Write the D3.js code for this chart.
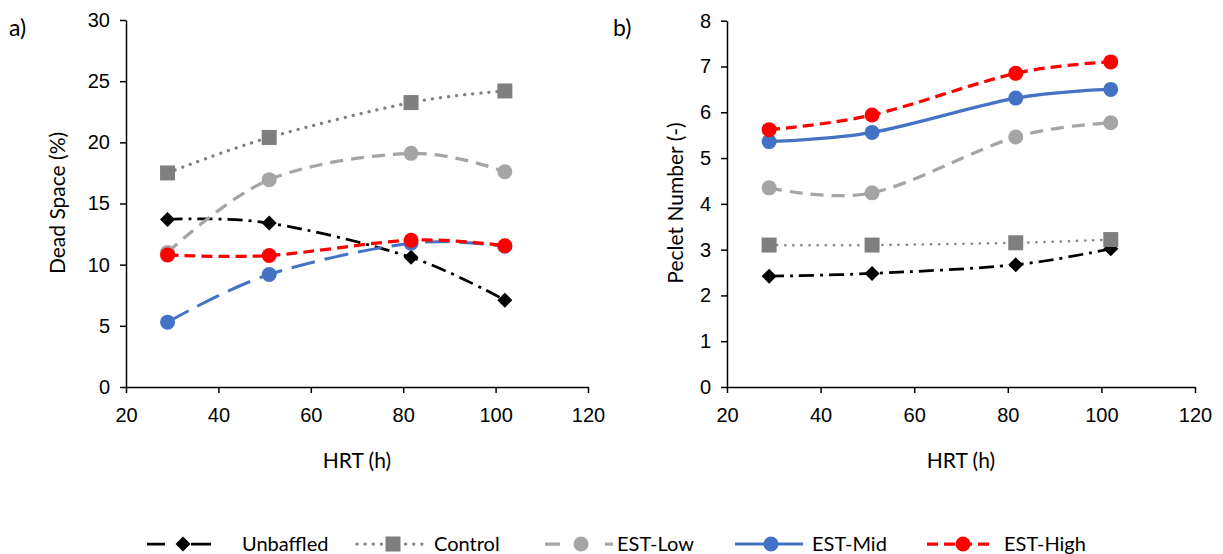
<!DOCTYPE html>
<html>
<head>
<meta charset="utf-8">
<script src="https://cdn.jsdelivr.net/npm/d3@7"></script>
<style>
  body { margin: 0; background: #fff; }
  svg { font-family: Lato, "Open Sans", sans-serif; }
  .tick line, .domain { stroke: #000; stroke-width: 1.5; }
</style>
</head>
<body>
<svg width="1223" height="554"></svg>
<script>
// HRT values (h), shared by both panels
const hrt = [29, 51, 81.7, 102];

const seriesNames = ["Unbaffled", "Control", "EST-Low", "EST-Mid", "EST-High"];

// panel a) dead space (%)
const deadUnbaffled = [13.7, 13.4, 10.6, 7.1];
const deadControl   = [17.5, 20.4, 23.25, 24.2];
const deadLow       = [11.0, 16.95, 19.1, 17.6];
const deadMid       = [5.3, 9.2, 11.75, 11.5];
const deadHigh      = [10.8, 10.75, 12.0, 11.55];

// panel b) peclet number (-)
const pecUnbaffled = [2.42, 2.48, 2.67, 3.02];
const pecControl   = [3.1, 3.1, 3.15, 3.22];
const pecLow       = [4.35, 4.24, 5.46, 5.77];
const pecMid       = [5.36, 5.56, 6.31, 6.5];
const pecHigh      = [5.62, 5.94, 6.85, 7.1];

const xTicks = [20, 40, 60, 80, 100, 120];
const deadTicks = [0, 5, 10, 15, 20, 25, 30];
const pecTicks = [0, 1, 2, 3, 4, 5, 6, 7, 8];

// styles per series, panel b has a solid EST-Mid line
const styles = {
  "Unbaffled": {color: "#000000", marker: "diamond", dash: "15 6 3 6", width: 2.75},
  "Control":   {color: "#7f7f7f", marker: "square",  dash: "0.1 8", width: 3.25, cap: "round"},
  "EST-Low":   {color: "#a5a5a5", marker: "circle",  dash: "13 8", width: 3.25},
  "EST-Mid":   {color: "#4472c4", marker: "circle",  dash: "24 10", width: 3},
  "EST-High":  {color: "#ff0000", marker: "circle",  dash: "11 6", width: 3.25}
};

const svg = d3.select("svg");

function drawMarker(g, type, color, x, y) {
  if (type === "circle") {
    g.append("circle").attr("cx", x).attr("cy", y).attr("r", 7.5).attr("fill", color);
  } else if (type === "square") {
    g.append("rect").attr("x", x - 7.5).attr("y", y - 7.5).attr("width", 15).attr("height", 15).attr("fill", color);
  } else {
    g.append("path").attr("d", `M${x},${y - 7.5}L${x + 7.5},${y}L${x},${y + 7.5}L${x - 7.5},${y}Z`).attr("fill", color);
  }
}

function panel(opts) {
  let x = d3.scaleLinear().domain([20, 120]).range(opts.xRange);
  let y = d3.scaleLinear().domain(opts.yDomain).range([387, opts.yTop]);
  let g = svg.append("g");

  g.append("g")
    .attr("transform", `translate(0,387)`)
    .call(d3.axisBottom(x).tickValues(xTicks).tickSize(6).tickPadding(15).tickSizeOuter(0))
    .selectAll("text").attr("font-size", 20).attr("fill", "#000");

  g.append("g")
    .attr("transform", `translate(${opts.xRange[0]},0)`)
    .call(d3.axisLeft(y).tickValues(opts.yTicks).tickSize(6).tickPadding(10).tickSizeOuter(0))
    .selectAll("text").attr("font-size", 20).attr("fill", "#000");

  g.selectAll(".domain").attr("stroke-width", 1.75);

  let line = d3.line()
    .x((d, i) => x(hrt[i]))
    .y(d => y(d))
    .curve(d3.curveCardinal);

  opts.series.forEach((vals, k) => {
    let name = seriesNames[k];
    let st = styles[name];
    let dash = (opts.solid && opts.solid.includes(name)) ? null : st.dash;
    let sg = g.append("g");
    sg.append("path")
      .attr("d", line(vals))
      .attr("fill", "none")
      .attr("stroke", st.color)
      .attr("stroke-width", opts.lw ? opts.lw[k] : st.width)
      .attr("stroke-dasharray", dash)
      .attr("stroke-linecap", st.cap || "butt");
    vals.forEach((v, i) => drawMarker(sg, st.marker, st.color, x(hrt[i]), y(v)));
  });

  // axis titles
  let cx = (opts.xRange[0] + opts.xRange[1]) / 2;
  g.append("text").attr("x", cx).attr("y", 468).attr("text-anchor", "middle")
    .attr("font-size", 21).text("HRT (h)");
  g.append("text")
    .attr("transform", `translate(${opts.yTitleX},203) rotate(-90)`)
    .attr("text-anchor", "middle").attr("font-size", 21).text(opts.yTitle);
  g.append("text").attr("x", opts.labelX).attr("y", 36).attr("font-size", 23).text(opts.label);
}

panel({
  xRange: [126, 588], yDomain: [0, 30], yTop: 20, yTicks: deadTicks,
  series: [deadUnbaffled, deadControl, deadLow, deadMid, deadHigh],
  yTitle: "Dead Space (%)", yTitleX: 65, label: "a)", labelX: 9
});

panel({
  xRange: [727, 1195], yDomain: [0, 8], yTop: 20.7, yTicks: pecTicks,
  series: [pecUnbaffled, pecControl, pecLow, pecMid, pecHigh],
  solid: ["EST-Mid"], lw: [2.75, 2.5, 3.25, 3.25, 3.25],
  yTitle: "Peclet Number (-)", yTitleX: 683, label: "b)", labelX: 613
});

// legend
const legendX = [147, 357, 545, 735, 927];
const legendTextX = [242, 434, 617, 812, 1004];
let lg = svg.append("g");
seriesNames.forEach((name, k) => {
  let st = styles[name];
  let x0 = legendX[k];
  let dash = name === "EST-Mid" ? null : st.dash;
  lg.append("line")
    .attr("x1", x0).attr("x2", x0 + (name === "Unbaffled" ? 64 : 68)).attr("y1", 544).attr("y2", 544)
    .attr("stroke", st.color).attr("stroke-width", st.width)
    .attr("stroke-dasharray", name === "Unbaffled" ? "18 26 20" : (name === "EST-Low" ? "15 45 15" : dash))
    .attr("stroke-linecap", st.cap || "butt");
  drawMarker(lg, st.marker, st.color, x0 + 36, 544);
  lg.append("text").attr("x", legendTextX[k]).attr("y", 544).attr("dy", "0.35em")
    .attr("font-size", 20).text(name);
});
</script>
</body>
</html>
